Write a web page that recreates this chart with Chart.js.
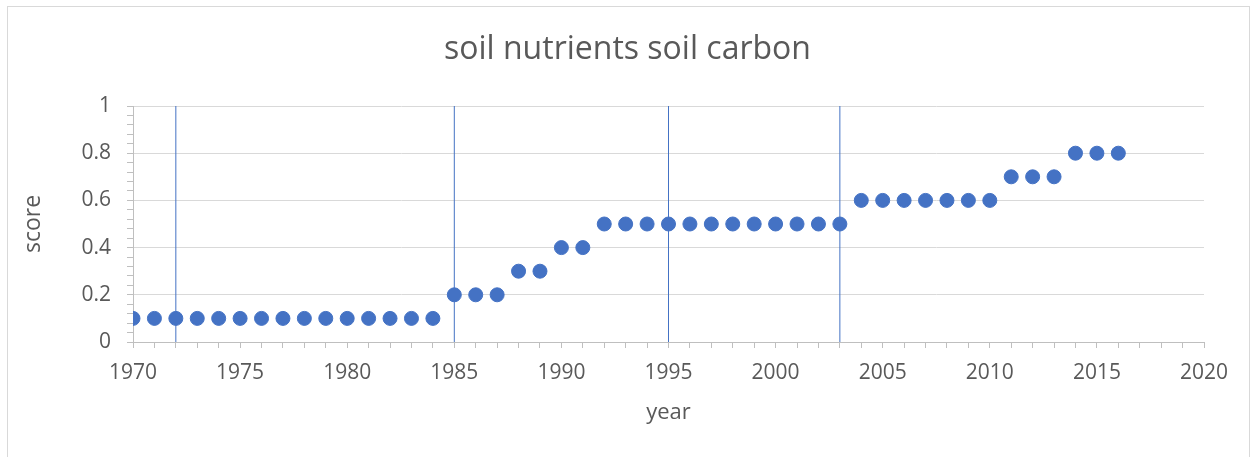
<!DOCTYPE html>
<html>
<head>
<meta charset="utf-8">
<script src="https://cdn.jsdelivr.net/npm/chart.js@4.4.0/dist/chart.umd.min.js"></script>
<style>
  html, body { margin: 0; padding: 0; background: #fff; }
  #wrap { position: relative; width: 1255px; height: 457px; }
  #frame { position: absolute; left: 7px; top: 6px; width: 1243px; height: 460px; border: 1px solid #d9d9d9; box-sizing: border-box; }
  canvas { position: absolute; left: 0; top: 0; }
</style>
</head>
<body>
<div id="wrap">
  <div id="frame"></div>
  <canvas id="chart" width="1255" height="457"></canvas>
</div>
<script>
// data
const years = [1970, 1971, 1972, 1973, 1974, 1975, 1976, 1977, 1978, 1979,
               1980, 1981, 1982, 1983, 1984, 1985, 1986, 1987, 1988, 1989,
               1990, 1991, 1992, 1993, 1994, 1995, 1996, 1997, 1998, 1999,
               2000, 2001, 2002, 2003, 2004, 2005, 2006, 2007, 2008, 2009,
               2010, 2011, 2012, 2013, 2014, 2015, 2016];
const scores = [0.1, 0.1, 0.1, 0.1, 0.1, 0.1, 0.1, 0.1, 0.1, 0.1,
                0.1, 0.1, 0.1, 0.1, 0.1, 0.2, 0.2, 0.2, 0.3, 0.3,
                0.4, 0.4, 0.5, 0.5, 0.5, 0.5, 0.5, 0.5, 0.5, 0.5,
                0.5, 0.5, 0.5, 0.5, 0.6, 0.6, 0.6, 0.6, 0.6, 0.6,
                0.6, 0.7, 0.7, 0.7, 0.8, 0.8, 0.8];
// years marked with vertical lines
const markerYears = [1972, 1985, 1995, 2003];

const blue = '#4472C4';
const textColor = '#595959';
const fontFamily = '"Open Sans", "Liberation Sans", sans-serif';

const datasets = [{
    type: 'scatter',
    label: 'score',
    data: years.map((y, i) => ({ x: y, y: scores[i] })),
    backgroundColor: blue,
    borderColor: blue,
    pointRadius: 7,
    pointHoverRadius: 7,
    order: 0,
}];

// each marker is a two-point line from bottom to top of the axis
markerYears.forEach((yr) => {
    datasets.push({
        type: 'line',
        data: [{ x: yr, y: 0 }, { x: yr, y: 1 }],
        borderColor: blue,
        borderWidth: 1,
        pointRadius: 0,
        fill: false,
        order: 1,
    });
});

const isMajorY = (v) => Math.round(v * 100) % 20 === 0;

new Chart(document.getElementById('chart'), {
    type: 'scatter',
    data: { datasets },
    options: {
        responsive: false,
        animation: false,
        layout: { padding: 0 },
        plugins: {
            legend: { display: false },
            tooltip: { enabled: false },
            title: {
                display: true,
                text: 'soil nutrients soil carbon',
                color: textColor,
                font: { family: fontFamily, size: 32, weight: 'normal', lineHeight: 1.2 },
                padding: { top: 31, bottom: 36.6 },
            },
        },
        scales: {
            x: {
                type: 'linear',
                min: 1970,
                max: 2020,
                afterFit: (scale) => { scale.height = 115; },
                ticks: {
                    stepSize: 1,
                    autoSkip: false,
                    maxRotation: 0,
                    color: textColor,
                    padding: 12,
                    font: { family: fontFamily, size: 21 },
                    callback: (v) => (v % 5 === 0 ? String(v) : ''),
                },
                grid: {
                    drawOnChartArea: false,
                    tickLength: 6,
                    tickColor: '#bfbfbf',
                },
                border: { color: '#bfbfbf', width: 1 },
                title: {
                    display: true,
                    text: 'year',
                    color: textColor,
                    font: { family: fontFamily, size: 22, lineHeight: 1.2 },
                    padding: { bottom: 31 },
                },
            },
            y: {
                min: 0,
                max: 1,
                afterFit: (scale) => { scale.width = 133; },
                ticks: {
                    stepSize: 0.04,
                    autoSkip: false,
                    color: textColor,
                    padding: 16,
                    font: { family: fontFamily, size: 21 },
                    callback: (v) => (isMajorY(v) ? String(Math.round(v * 10) / 10) : ''),
                },
                grid: {
                    color: (ctx) => (ctx.tick && isMajorY(ctx.tick.value) && ctx.tick.value > 0 ? '#d9d9d9' : 'rgba(0,0,0,0)'),
                    tickColor: '#bfbfbf',
                    tickLength: 6,
                    lineWidth: 1,
                },
                border: { color: '#bfbfbf', width: 1 },
                title: {
                    display: true,
                    text: 'score',
                    color: textColor,
                    font: { family: fontFamily, size: 23, lineHeight: 1.2 },
                    padding: { top: 20 },
                },
            },
            // empty right-hand spacer so the title stays centred on the whole chart
            spacer: {
                type: 'linear',
                position: 'right',
                min: 0,
                max: 1,
                afterFit: (scale) => { scale.width = 51; },
                ticks: { display: false },
                grid: { display: false, drawOnChartArea: false },
                border: { display: false },
            },
        },
    },
});
</script>
</body>
</html>
